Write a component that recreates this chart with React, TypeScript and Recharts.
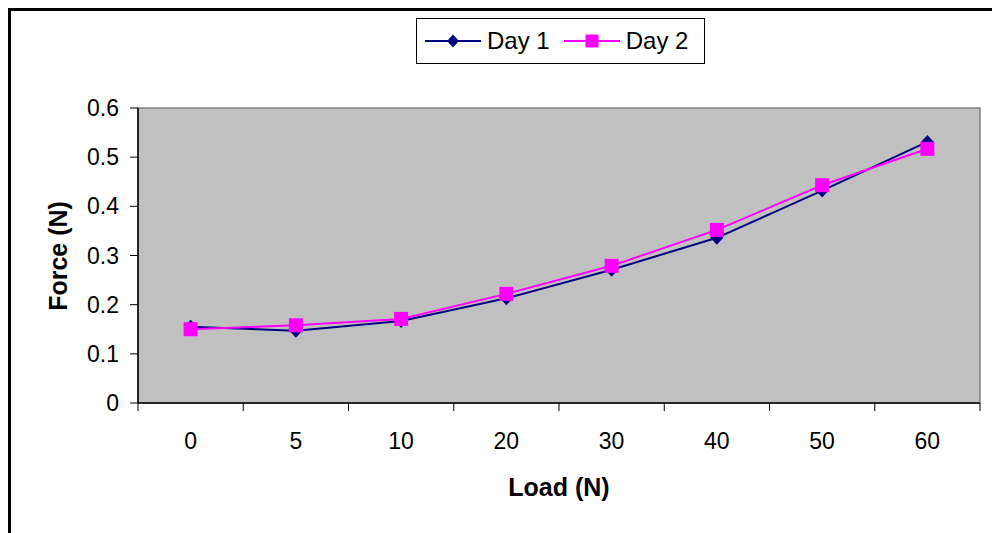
import React from 'react';
import { LineChart, Line, XAxis, YAxis, ReferenceArea } from 'recharts';

const loads = ['0', '5', '10', '20', '30', '40', '50', '60'];
const day1 = [0.155, 0.147, 0.167, 0.213, 0.271, 0.336, 0.432, 0.531];
const day2 = [0.15, 0.158, 0.171, 0.222, 0.279, 0.352, 0.443, 0.517];
const yTicks = [0, 0.1, 0.2, 0.3, 0.4, 0.5, 0.6];

// category centres carry labels, the half steps carry the tick marks
const xTicks = loads.flatMap((_, i) => [i - 0.5, i]).concat(loads.length - 0.5);

const data = loads.map((load, i) => ({ idx: i, load, day1: day1[i], day2: day2[i] }));

const NAVY = '#000080';
const MAGENTA = '#FF00FF';
const FONT = '"Liberation Sans", Arial, sans-serif';

const Diamond = (props: any) => {
  const { cx, cy, index } = props;
  return (
    <path
      key={`d1-${index}`}
      d={`M${cx},${cy - 7}L${cx + 6.5},${cy}L${cx},${cy + 7}L${cx - 6.5},${cy}Z`}
      fill={NAVY}
    />
  );
};

const Square = (props: any) => {
  const { cx, cy, index } = props;
  return <rect key={`d2-${index}`} x={cx - 7} y={cy - 7} width={14} height={14} fill={MAGENTA} />;
};

const XTick = (props: any) => {
  const { x, y, payload } = props;
  const v = payload.value;
  if (Number.isInteger(v)) {
    return (
      <text x={x} y={y + 38} textAnchor="middle" fontSize={23} fontFamily={FONT} fill="#000">
        {loads[v]}
      </text>
    );
  }
  return <line x1={x} x2={x} y1={y - 8} y2={y} stroke="#000" strokeWidth={1} />;
};

function LegendBox() {
  return (
    <div
      style={{
        position: 'absolute',
        left: 405,
        top: 7,
        width: 289,
        height: 46,
        boxSizing: 'border-box',
        border: '1px solid #000',
        background: '#fff',
        display: 'flex',
        alignItems: 'center',
        fontFamily: FONT,
        fontSize: 24,
        color: '#000',
      }}
    >
      <svg width={56} height={16} style={{ marginLeft: 8 }}>
        <line x1={0} x2={56} y1={8} y2={8} stroke={NAVY} strokeWidth={2} />
        <path d="M28,1.5L34,8L28,14.5L22,8Z" fill={NAVY} />
      </svg>
      <span style={{ marginLeft: 6 }}>Day 1</span>
      <svg width={56} height={16} style={{ marginLeft: 14 }}>
        <line x1={0} x2={56} y1={8} y2={8} stroke={MAGENTA} strokeWidth={2} />
        <rect x={21.5} y={1.5} width={13} height={13} fill={MAGENTA} />
      </svg>
      <span style={{ marginLeft: 6 }}>Day 2</span>
    </div>
  );
}

export default function App() {
  return (
    <div
      style={{
        position: 'fixed',
        top: 8,
        left: 8,
        width: 990,
        height: 540,
        borderTop: '3px solid #000',
        borderLeft: '3px solid #000',
        background: '#fff',
        fontFamily: FONT,
      }}
    >
      <LegendBox />
      <div
        style={{
          position: 'absolute',
          left: 47,
          top: 244.5,
          transform: 'translate(-50%, -50%) rotate(-90deg)',
          whiteSpace: 'nowrap',
          fontWeight: 'bold',
          fontSize: 25,
        }}
      >
        Force (N)
      </div>
      <div
        style={{
          position: 'absolute',
          left: 548,
          top: 476,
          transform: 'translate(-50%, -50%)',
          whiteSpace: 'nowrap',
          fontWeight: 'bold',
          fontSize: 25,
        }}
      >
        Load (N)
      </div>
      <div style={{ position: 'absolute', left: 0, top: 0 }}>
        <LineChart
          width={981}
          height={522}
          data={data}
          margin={{ top: 97, right: 12, bottom: 70, left: 0 }}
        >
          <ReferenceArea
            x1={-0.5}
            x2={7.5}
            y1={0}
            y2={0.6}
            fill="#C0C0C0"
            fillOpacity={1}
            stroke="#808080"
            strokeWidth={1.5}
          />
          <XAxis
            dataKey="idx"
            type="number"
            domain={[-0.5, 7.5]}
            ticks={xTicks}
            interval={0}
            allowDecimals
            tickLine={false}
            tickSize={8}
            tickMargin={0}
            tick={<XTick />}
            height={60}
            axisLine={{ stroke: '#000', strokeWidth: 1.5 }}
          />
          <YAxis
            type="number"
            domain={[0, 0.6]}
            ticks={yTicks}
            interval={0}
            width={127}
            tickSize={8}
            tickMargin={11}
            tickLine={{ stroke: '#000' }}
            axisLine={{ stroke: '#000', strokeWidth: 1.5 }}
            tick={{ fontSize: 23, fontFamily: FONT, fill: '#000' }}
          />
          <Line
            type="linear"
            dataKey="day1"
            stroke={NAVY}
            strokeWidth={2}
            dot={Diamond}
            activeDot={false}
            isAnimationActive={false}
          />
          <Line
            type="linear"
            dataKey="day2"
            stroke={MAGENTA}
            strokeWidth={2}
            dot={Square}
            activeDot={false}
            isAnimationActive={false}
          />
        </LineChart>
      </div>
    </div>
  );
}
